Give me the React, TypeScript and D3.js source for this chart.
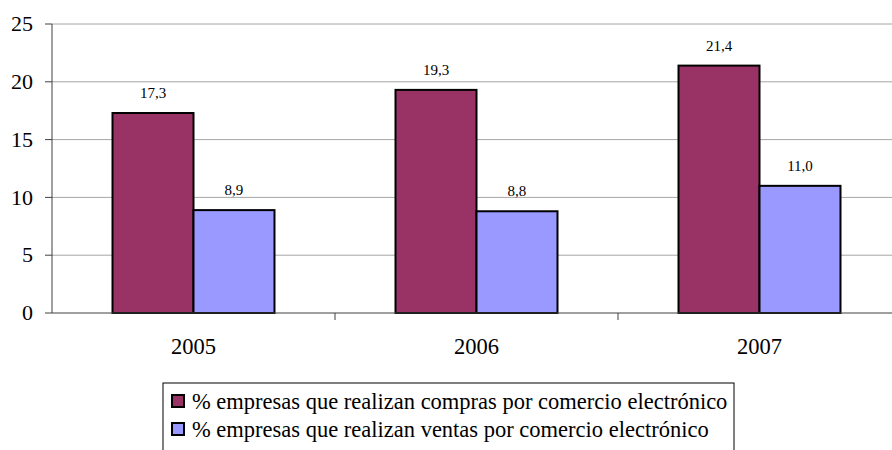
import * as d3 from 'd3';

const years = ['2005', '2006', '2007'];
const seriesNames = [
    '% empresas que realizan compras por comercio electrónico',
    '% empresas que realizan ventas por comercio electrónico',
];
const compras = [17.3, 19.3, 21.4];
const ventas = [8.9, 8.8, 11.0];
const yTicks = [0, 5, 10, 15, 20, 25];

const colors = ['#993366', '#9999ff'];

const left = 52;
const right = 901; // plot runs past the picture edge, as in the source
const top = 24;
const bottom = 313;

const serif = "'Liberation Serif', Tinos, 'Times New Roman'";
const big = { fontFamily: serif, fontSize: '22.5px' };
const small = { fontFamily: serif, fontSize: '15px' };

export default function App() {
    const x = d3.scaleBand().domain(years).range([left, right]);
    const inner = d3.scaleBand<number>()
        .domain([0, 1])
        .range([0, x.bandwidth()])
        .paddingInner(0)
        .paddingOuter(0.747);
    const y = d3.scaleLinear().domain([0, 25]).range([bottom, top]);
    const values = [compras, ventas];
    const axisColor = '#404040';

    return (
        <svg
            width={892}
            height={450}
            style={{ position: 'absolute', left: 0, top: 0, background: '#fff' }}
        >
            <style>{`text { font-family: ${serif} !important; }`}</style>

            {/* gridlines */}
            {yTicks.filter(t => t > 0).map(t => (
                <line key={'g' + t} x1={left} x2={right} y1={y(t)} y2={y(t)} stroke="#a6a6a6" />
            ))}

            {/* y axis */}
            <line x1={left} x2={left} y1={top} y2={bottom} stroke={axisColor} />
            {yTicks.map(t => (
                <g key={'t' + t}>
                    <line x1={left - 7} x2={left} y1={y(t)} y2={y(t)} stroke={axisColor} />
                    <text x={33} y={y(t)} dy="0.33em" textAnchor="end" style={{ ...big, fontSize: '22px' }}>{t}</text>
                </g>
            ))}

            {/* bars */}
            {years.map((yr, i) =>
                values.map((vals, s) => {
                    const bx = (x(yr) ?? 0) + (inner(s) ?? 0);
                    return (
                        <g key={yr + s}>
                            <rect
                                x={bx}
                                y={y(vals[i])}
                                width={inner.bandwidth()}
                                height={bottom - y(vals[i])}
                                fill={colors[s]}
                                stroke="#000"
                                strokeWidth={2}
                            />
                            <text
                                x={bx + inner.bandwidth() / 2}
                                y={y(vals[i]) - 15}
                                textAnchor="middle"
                                style={small}
                            >
                                {vals[i].toFixed(1).replace('.', ',')}
                            </text>
                        </g>
                    );
                })
            )}

            {/* x axis */}
            <line x1={left} x2={right} y1={bottom} y2={bottom} stroke={axisColor} />
            {years.slice(1).map(yr => (
                <line key={'xt' + yr} x1={x(yr)} x2={x(yr)} y1={bottom} y2={bottom + 7} stroke={axisColor} />
            ))}
            {years.map(yr => (
                <text key={'xl' + yr} x={(x(yr) ?? 0) + x.bandwidth() / 2} y={354} textAnchor="middle" style={big}>
                    {yr}
                </text>
            ))}

            {/* legend */}
            <g transform="translate(163,383)">
                <rect x={0} y={0} width={571} height={90} fill="#fff" stroke="#000" />
                {seriesNames.map((name, s) => (
                    <g key={name}>
                        <rect x={9} y={12 + s * 28} width={12} height={12} fill={colors[s]} stroke="#000" strokeWidth={2} />
                        <text x={29} y={26 + s * 28} style={big}>{name}</text>
                    </g>
                ))}
            </g>
        </svg>
    );
}
